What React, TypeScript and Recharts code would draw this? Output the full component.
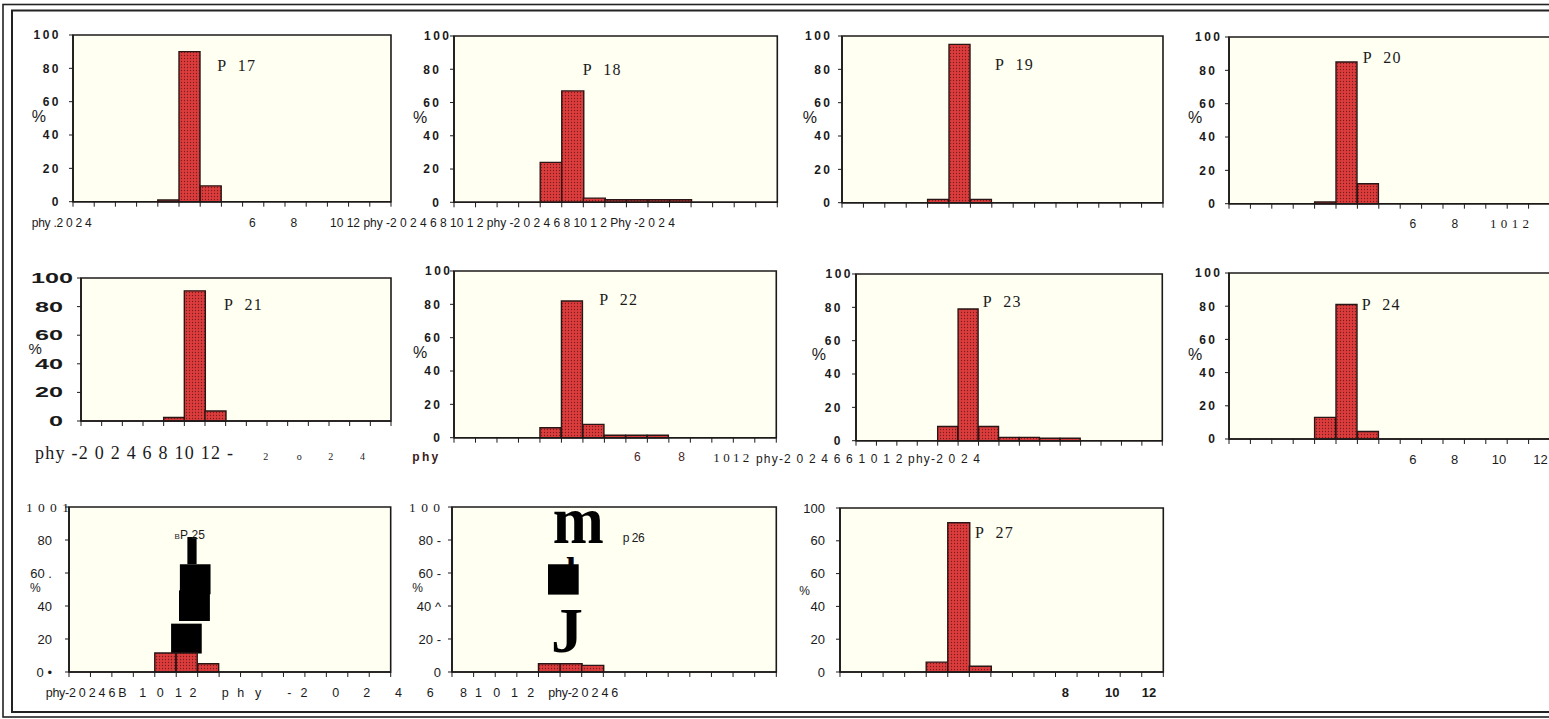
import React from 'react';
import { BarChart, Bar, XAxis, YAxis, CartesianGrid, ReferenceArea } from 'recharts';

const SANS = '"Liberation Sans", Arial, sans-serif';
const SERIF = '"Liberation Serif", "Times New Roman", serif';

// ---------- data ----------
const binCenters = [0.5, 1.5, 2.5, 3.5, 4.5, 5.5, 6.5, 7.5, 8.5, 9.5, 10.5, 11.5, 12.5, 13.5, 14.5];
const xTicks = [0, 1, 2, 3, 4, 5, 6, 7, 8, 9, 10, 11, 12, 13, 14, 15];
const yTicks = [0, 20, 40, 60, 80, 100];

const p17 = [0, 0, 0, 0, 1, 90, 9.5, 0, 0, 0, 0, 0, 0, 0, 0];
const p18 = [0, 0, 0, 0, 24, 67, 2.5, 1.5, 1.5, 1.5, 1.5, 0, 0, 0, 0];
const p19 = [0, 0, 0, 0, 2, 95, 2, 0, 0, 0, 0, 0, 0, 0, 0];
const p20 = [0, 0, 0, 0, 1, 85, 12, 0, 0, 0, 0, 0, 0, 0, 0];
const p21 = [0, 0, 0, 0, 2.5, 91, 7, 0, 0, 0, 0, 0, 0, 0, 0];
const p22 = [0, 0, 0, 0, 6, 82, 8, 1.5, 1.5, 1.5, 0, 0, 0, 0, 0];
const p23 = [0, 0, 0, 0, 8.5, 79, 8.5, 2, 2, 1.5, 1.5, 0, 0, 0, 0];
const p24 = [0, 0, 0, 0, 13, 81, 4.5, 0, 0, 0, 0, 0, 0, 0, 0];
const p25 = [0, 0, 0, 0, 11.5, 11.5, 5, 0, 0, 0, 0, 0, 0, 0, 0];
const p26 = [0, 0, 0, 0, 5, 5, 4, 0, 0, 0, 0, 0, 0, 0, 0];
const p27 = [0, 0, 0, 0, 6, 91, 3.5, 0, 0, 0, 0, 0, 0, 0, 0];

const yLabelsStd = ['0', '20', '40', '60', '80', '100'];
const yLabelsP25 = ['0 •', '20', '40', '60 .', '80', '1 0 0 1'];
const yLabelsP26 = ['0', '20 -', '40 ^', '60 -', '80 -', '1 0 0'];
const yLabelsP27 = ['0', '20', '40', '60', '60', '100'];

// scan blots (data units: bin position / percent)
const blotsP25 = [
  { x1: 4.76, x2: 6.19, y1: 11.2, y2: 29.3 },
  { x1: 5.13, x2: 6.57, y1: 30.9, y2: 49.5 },
  { x1: 5.17, x2: 6.6, y1: 47.1, y2: 65.3 },
  { x1: 5.52, x2: 5.95, y1: 65.3, y2: 81.8 },
];
const blotsP26 = [{ x1: 4.44, x2: 5.86, y1: 46.9, y2: 65.3 }];

// ---------- styles ----------
type YStyle = { size: number; weight: number; ls: number; charW?: number; serifTop?: boolean };
const yA: YStyle = { size: 12, weight: 700, ls: 2.5 };
const yB: YStyle = { size: 14, weight: 700, ls: 0, charW: 14 };
const yC: YStyle = { size: 13, weight: 400, ls: 0, serifTop: true };
const yE: YStyle = { size: 13, weight: 400, ls: 0 };

type Panel = {
  id: string; values: number[]; yLabels: string[];
  px: number; py: number; pw: number; ph: number;
  ys: YStyle; gap: number; topDx: number; blots?: { x1: number; x2: number; y1: number; y2: number }[];
};

const panels: Panel[] = [
  { id: 'p17', values: p17, yLabels: yLabelsStd, px: 72.7, py: 35, pw: 318, ph: 166.7, ys: yA, gap: 14.5, topDx: 0 },
  { id: 'p18', values: p18, yLabels: yLabelsStd, px: 454.3, py: 35.7, pw: 323.3, ph: 166.3, ys: yA, gap: 15, topDx: 10 },
  { id: 'p19', values: p19, yLabels: yLabelsStd, px: 842.3, py: 36, pw: 321, ph: 166.7, ys: yA, gap: 12, topDx: 0 },
  { id: 'p20', values: p20, yLabels: yLabelsStd, px: 1229.3, py: 37.3, pw: 321, ph: 166.7, ys: yA, gap: 14, topDx: 5 },
  { id: 'p21', values: p21, yLabels: yLabelsStd, px: 80.7, py: 277.7, pw: 310, ph: 143, ys: yB, gap: 18, topDx: 10 },
  { id: 'p22', values: p22, yLabels: yLabelsStd, px: 454.3, py: 271, pw: 322.3, ph: 166.7, ys: yA, gap: 14, topDx: 10 },
  { id: 'p23', values: p23, yLabels: yLabelsStd, px: 855.7, py: 274.3, pw: 306.3, ph: 166.7, ys: yA, gap: 15.5, topDx: 10 },
  { id: 'p24', values: p24, yLabels: yLabelsStd, px: 1229, py: 273.3, pw: 321, ph: 166, ys: yA, gap: 14, topDx: 5 },
  { id: 'p25', values: p25, yLabels: yLabelsP25, px: 69, py: 506.7, pw: 321.7, ph: 165, ys: yC, gap: 17, topDx: 18, blots: blotsP25 },
  { id: 'p26', values: p26, yLabels: yLabelsP26, px: 452.3, py: 506.7, pw: 324.3, ph: 165, ys: yC, gap: 11, topDx: 0, blots: blotsP26 },
  { id: 'p27', values: p27, yLabels: yLabelsP27, px: 840, py: 508.3, pw: 323.3, ph: 164, ys: yE, gap: 15, topDx: 0 },
];

const YW = 70;
const MT = 8;
const XH = 8;
const AX = '#1e1a1a';

const EmptyTick = () => <g />;

function Hist({ p }: { p: Panel }) {
  const data = binCenters.map((x, i) => ({ x, v: p.values[i] }));
  const W = YW + p.pw + 4;
  const H = MT + p.ph + XH;
  const st = p.ys;
  const pid = `dots-${p.id}`;
  const yTick = (props: any) => {
    const { x, y, payload } = props;
    const i = yTicks.indexOf(payload.value);
    const txt = p.yLabels[i] ?? '';
    const isTop = payload.value === 100;
    const serif = isTop && st.serifTop;
    const extra: any = st.charW ? { textLength: txt.length * st.charW, lengthAdjust: 'spacingAndGlyphs' } : {};
    return (
      <text
        x={x + (isTop ? p.topDx : 0) + st.ls}
        y={y}
        dy="0.36em"
        textAnchor="end"
        fontFamily={serif ? SERIF : SANS}
        fontSize={serif ? 13.5 : st.size}
        fontWeight={serif ? 400 : st.weight}
        letterSpacing={serif ? 1 : st.ls}
        fill="#1a1a1a"
        {...extra}
      >
        {txt}
      </text>
    );
  };
  return (
    <div style={{ position: 'absolute', left: p.px - YW, top: p.py - MT }}>
      <BarChart width={W} height={H} data={data} margin={{ top: MT, right: 4, bottom: 0, left: 0 }} barCategoryGap={0} barGap={0}>
        <defs>
          <pattern id={pid} width="3" height="3" patternUnits="userSpaceOnUse">
            <rect width="3" height="3" fill="#dc3c3c" />
            <circle cx="1.5" cy="1.5" r="0.65" fill="#7a1c1c" />
          </pattern>
        </defs>
        <CartesianGrid horizontal={false} vertical={false} fill="#fffff2" stroke="none" />
        <XAxis
          type="number"
          dataKey="x"
          domain={[0, 15]}
          ticks={xTicks}
          interval={0}
          tick={EmptyTick}
          tickSize={5}
          height={XH}
          axisLine={{ stroke: AX, strokeWidth: 1.6 }}
          tickLine={{ stroke: AX, strokeWidth: 1 }}
        />
        <YAxis
          type="number"
          domain={[0, 100]}
          ticks={yTicks}
          interval={0}
          width={YW}
          tickSize={4}
          tickMargin={p.gap - 4}
          tick={yTick}
          axisLine={{ stroke: AX, strokeWidth: 1.6 }}
          tickLine={{ stroke: AX, strokeWidth: 1 }}
        />
        <Bar dataKey="v" fill={`url(#${pid})`} stroke="#2a1616" strokeWidth={1.4} isAnimationActive={false} />
        <ReferenceArea x1={0} x2={15} y1={0} y2={100} fill="none" stroke={AX} strokeWidth={1.6} ifOverflow="visible" />
        {(p.blots || []).map((b, i) => (
          <ReferenceArea key={i} x1={b.x1} x2={b.x2} y1={b.y1} y2={b.y2} fill="#000" fillOpacity={1} stroke="none" ifOverflow="visible" />
        ))}
      </BarChart>
    </div>
  );
}

// ---------- overlay texts ----------
type T = { t: string; x: number; y: number; s: number; serif?: boolean; w?: number; tl?: number; c?: string; ls?: number };

const NB = '\u00a0';
const pLabels: T[] = [
  { t: `P${NB}${NB}17`, x: 217.3, y: 70.7, s: 16, serif: true, ls: 1.2 },
  { t: `P${NB}${NB}18`, x: 582.7, y: 75, s: 16, serif: true, ls: 1.2 },
  { t: `P${NB}${NB}19`, x: 995, y: 70, s: 16, serif: true, ls: 1.2 },
  { t: `P${NB}${NB}20`, x: 1362.7, y: 63.3, s: 16, serif: true, ls: 1.2 },
  { t: `P${NB}${NB}21`, x: 224, y: 310, s: 16, serif: true, ls: 1.2 },
  { t: `P${NB}${NB}22`, x: 599.3, y: 305, s: 16, serif: true, ls: 1.2 },
  { t: `P${NB}${NB}23`, x: 982.7, y: 306.7, s: 16, serif: true, ls: 1.2 },
  { t: `P${NB}${NB}24`, x: 1361.7, y: 310, s: 16, serif: true, ls: 1.2 },
  { t: `P${NB}${NB}27`, x: 975, y: 538.3, s: 16, serif: true, ls: 1.2 },
  { t: 'B', x: 174.5, y: 539, s: 8 },
  { t: 'P 25', x: 180, y: 539.3, s: 12, tl: 25 },
  { t: 'p 26', x: 622.7, y: 541.5, s: 12, tl: 22 },
];

const pctLabels: T[] = [
  { t: '%', x: 31.7, y: 121.7, s: 16 },
  { t: '%', x: 413, y: 123, s: 16 },
  { t: '%', x: 802.7, y: 123.3, s: 16 },
  { t: '%', x: 1188, y: 123, s: 16 },
  { t: '%', x: 28.5, y: 354, s: 15 },
  { t: '%', x: 413, y: 358.3, s: 16 },
  { t: '%', x: 811.7, y: 360, s: 16 },
  { t: '%', x: 1188, y: 360, s: 16 },
  { t: '%', x: 30, y: 591.7, s: 12 },
  { t: '%', x: 412.3, y: 592.3, s: 12 },
  { t: '%', x: 799.3, y: 595, s: 12 },
];

const row1: T[] = [
  { t: 'phy .2 0 2 4', x: 31.7, y: 226.5, s: 12, tl: 60 },
  { t: '6', x: 249, y: 226.5, s: 12 },
  { t: '8', x: 290.5, y: 226.5, s: 12 },
  { t: '10 12 phy -2 0 2 4 6 8 10 1 2 phy -2 0 2 4 6 8 10 1 2 Phy -2 0 2 4', x: 330, y: 226.5, s: 12, tl: 345 },
  { t: '6', x: 1409.5, y: 228, s: 12 },
  { t: '8', x: 1451.5, y: 228, s: 12 },
  { t: '1 0 1 2', x: 1490, y: 228.3, s: 13, serif: true, tl: 39 },
];

const row2: T[] = [
  { t: 'phy -2 0 2 4 6 8 10 12 -', x: 35, y: 459, s: 18, serif: true, tl: 198 },
  { t: '2', x: 263.3, y: 460, s: 10, serif: true },
  { t: 'o', x: 296.7, y: 460, s: 10, serif: true },
  { t: '2', x: 328.3, y: 460, s: 10, serif: true },
  { t: '4', x: 360, y: 460, s: 10, serif: true },
  { t: 'phy', x: 412.3, y: 461, s: 12, w: 700, tl: 26, c: '#3a2020' },
  { t: '6', x: 634, y: 461, s: 12, c: '#4a2424' },
  { t: '8', x: 678.3, y: 461, s: 12, c: '#4a2424' },
  { t: '1 0 1 2', x: 713.3, y: 462, s: 13, serif: true, tl: 36 },
  { t: 'phy-2 0 2 4 6 6 1 0 1 2 phy-2 0 2 4', x: 756, y: 463, s: 12, tl: 224 },
  { t: '6', x: 1409.3, y: 464.3, s: 13 },
  { t: '8', x: 1451, y: 464.3, s: 13 },
  { t: '10', x: 1491.7, y: 464.3, s: 13 },
  { t: '12', x: 1533.3, y: 464.3, s: 13 },
];

const row3: T[] = [
  { t: 'phy-2 0 2 4 6 B', x: 45.7, y: 696.7, s: 12.5, tl: 81 },
  { t: '1', x: 139.3, y: 696.7, s: 12.5 },
  { t: '0', x: 156.7, y: 696.7, s: 12.5 },
  { t: '1', x: 175, y: 696.7, s: 12.5 },
  { t: '2', x: 189.5, y: 696.7, s: 12.5 },
  { t: 'p', x: 221.7, y: 696.7, s: 12.5 },
  { t: 'h', x: 237.3, y: 696.7, s: 12.5 },
  { t: 'y', x: 255, y: 696.7, s: 12.5 },
  { t: '-', x: 287.3, y: 696.7, s: 12.5 },
  { t: '2', x: 300.5, y: 696.7, s: 12.5 },
  { t: '0', x: 332.3, y: 696.7, s: 12.5 },
  { t: '2', x: 363.3, y: 696.7, s: 12.5 },
  { t: '4', x: 395, y: 696.7, s: 12.5 },
  { t: '6', x: 426.7, y: 696.7, s: 12.5 },
  { t: '8', x: 460, y: 696.7, s: 12.5 },
  { t: '1', x: 475, y: 696.7, s: 12.5 },
  { t: '0', x: 493.3, y: 696.7, s: 12.5 },
  { t: '1', x: 511, y: 696.7, s: 12.5 },
  { t: '2', x: 527.3, y: 696.7, s: 12.5 },
  { t: 'phy-2 0 2 4 6', x: 548.3, y: 696.7, s: 12.5, tl: 70 },
  { t: '8', x: 1061.7, y: 697, s: 13, w: 700 },
  { t: '10', x: 1105, y: 697, s: 13, w: 700 },
  { t: '12', x: 1141.7, y: 697, s: 13, w: 700 },
];

const glyphs: T[] = [
  { t: 'm', x: 552.7, y: 542.7, s: 68, serif: true, w: 700, tl: 51, c: '#000' },
  { t: 'l', x: 566, y: 582, s: 36, serif: true, w: 700, c: '#000' },
  { t: 'J', x: 551, y: 652, s: 64, serif: true, w: 700, c: '#000' },
];

function Txt({ d }: { d: T }) {
  const extra: any = d.tl ? { textLength: d.tl, lengthAdjust: d.t.length > 1 ? 'spacing' : 'spacingAndGlyphs' } : {};
  return (
    <text
      x={d.x}
      y={d.y}
      fontFamily={d.serif ? SERIF : SANS}
      fontSize={d.s}
      fontWeight={d.w || 400}
      fill={d.c || '#1a1a1a'}
      letterSpacing={d.ls || 0}
      {...extra}
    >
      {d.t}
    </text>
  );
}

export default function App() {
  const all = [...pLabels, ...pctLabels, ...row1, ...row2, ...row3, ...glyphs];
  return (
    <div style={{ position: 'fixed', left: 0, top: 0, width: 1549, height: 719, overflow: 'hidden', background: '#ffffff' }}>
      {panels.map((p) => (
        <Hist key={p.id} p={p} />
      ))}
      <svg width={1549} height={719} style={{ position: 'absolute', left: 0, top: 0, pointerEvents: 'none' }}>
        <rect x={3} y={4.5} width={1560} height={712.5} fill="none" stroke="#222" strokeWidth={1.6} />
        <rect x={12} y={10.5} width={1560} height={701.5} fill="none" stroke="#222" strokeWidth={2} />
        {all.map((d, i) => (
          <Txt key={i} d={d} />
        ))}
      </svg>
    </div>
  );
}
